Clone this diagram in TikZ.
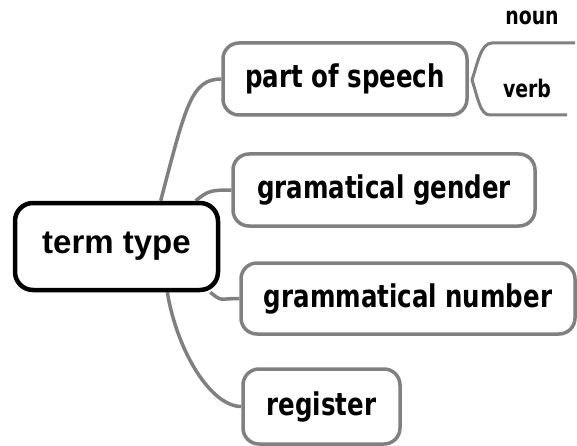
\documentclass[tikz,border=0pt]{standalone}
\usepackage{fontspec}
\setmainfont{Liberation Sans}
\newfontfamily\tah{DejaVu Sans Condensed}
\usetikzlibrary{backgrounds}
\newcommand{\tall}[1]{\scalebox{1}[1.15]{#1}}
\begin{document}
\begin{tikzpicture}[x=1pt,y=-1pt,
  link/.style={draw=linegray,line width=3.5pt},
  branch/.style={draw=linegray,line width=3.5pt,fill=white,rounded corners=16pt,
    minimum height=72pt,inner sep=0pt,font=\tah\bfseries\fontsize{27.2}{30}\selectfont,text=black},
  root/.style={draw=black,line width=4.5pt,fill=white,rounded corners=18pt,
    minimum width=203pt,minimum height=87pt,inner sep=0pt,font=\bfseries\fontsize{33}{38}\selectfont},
  leaf/.style={inner sep=0pt,anchor=base,font=\tah\bfseries\fontsize{21}{24}\selectfont}]
\definecolor{linegray}{RGB}{128,128,128}
\useasboundingbox (0,0) rectangle (577,446);
\node[root] (term) at (116.5,246.5) {term type};
\node[branch,minimum width=244pt] (pos) at (345,79) {\tall{part of speech}};
\node[branch,minimum width=302pt] (gender) at (384,190) {\tall{gramatical gender}};
\node[branch,minimum width=334pt,minimum height=71pt] (number) at (408,298.5) {\tall{grammatical number}};
\node[branch,minimum width=157pt,minimum height=75pt] (register) at (321.5,406.5) {\tall{register}};
\begin{scope}[on background layer]
\fill[white] (0,0) rectangle (577,446);
\draw[link] (term.46) .. controls +(25,-95) and +(-30,0) .. (pos.west);
\draw[link] (term.30) .. controls +(12,-10) and +(-20,0) .. (gender.west);
\draw[link] (term.-26) .. controls +(12,10) and +(-20,0) .. (number.west);
\draw[link] (term.-42) .. controls +(10,60) and +(-30,0) .. (register.west);
\end{scope}
% bracket
\coordinate (tip) at (472,80);
\coordinate (topend) at (575,43);
\coordinate (botend) at (567,115);
\node[leaf] (noun) at (532,25) {\tall{noun}};
\node[leaf] (verb) at (527,98) {\tall{verb}};
\draw[link,line width=3pt] (topend) -- (492,43) .. controls (481,43) and (478,62) .. (tip)
  .. controls (478,98) and (480,115) .. (490,115) -- (botend);
\end{tikzpicture}
\end{document}
